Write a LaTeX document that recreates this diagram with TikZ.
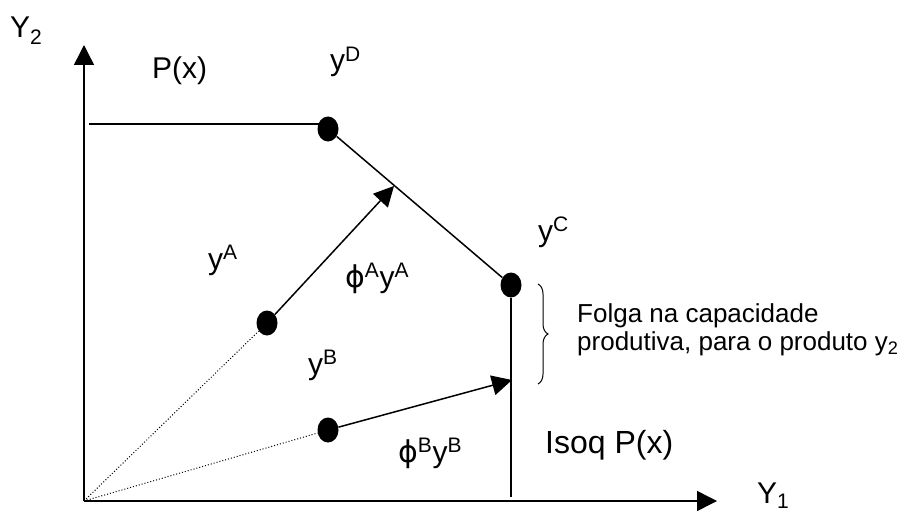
\documentclass[tikz,border=0pt]{standalone}
\usepackage{fontspec}
\setmainfont{Liberation Sans}
\newfontfamily\phifont{DejaVu Sans}
\usetikzlibrary{arrows.meta,shapes.geometric,decorations.pathreplacing}
\newcommand\myphi{{\phifont ϕ}}
\begin{document}
\begin{tikzpicture}[x=1pt,y=-1pt,
  axisline/.style={line width=1.5pt},
  arr/.style={line width=1.5pt,-{Triangle[length=20pt,width=20pt]}},
  pdot/.style={ellipse,fill=black,draw=none,inner sep=0pt,minimum width=21pt,minimum height=25pt},
  lbl/.style={anchor=base west,inner sep=0pt,font=\fontsize{30}{36}\selectfont},
  big/.style={anchor=base west,inner sep=0pt,font=\fontsize{32}{38}\selectfont},
  note/.style={anchor=base west,inner sep=0pt,align=left,font=\fontsize{26}{28}\selectfont}]
\useasboundingbox (0,0) rectangle (907,516);
% axes
\coordinate (O) at (84,501);
\coordinate (ytip) at (84,45);
\coordinate (xtip) at (717,501);
\draw[arr] (O) -- (ytip);
\draw[arr] (O) -- (xtip);
% points
\node[pdot] (D) at (328,129) {};
\node[pdot] (C) at (511,285) {};
\node[pdot] (A) at (267,323) {};
\node[pdot] (B) at (328,430) {};
% frontier
\coordinate (h0) at (89,124);
\coordinate (c0) at (511,497);
\draw[axisline] (h0) -- (h0 -| D);
\draw[axisline] (D) -- (C);
\draw[axisline] (C) -- (c0);
% rays
\draw[line width=1pt,dotted] (O) -- (A);
\draw[line width=1pt,dotted] (O) -- (B);
\coordinate (tA) at (394,186);
\coordinate (tB) at (512,380);
\draw[arr] (A) -- (tA);
\draw[arr] (B) -- (tB);
% brace
\coordinate (br1) at (538,284);
\coordinate (br2) at (538,384);
\draw[line width=1pt,decorate,decoration={brace,amplitude=10pt}] (br1) -- (br2);
% labels
\node[lbl] (lY2) at (10,38) {Y\textsubscript{2}};
\node[lbl] (lY1) at (757,503) {Y\textsubscript{1}};
\node[lbl] (lP) at (152,79) {P(x)};
\node[lbl] (lD) at (330,71) {y\textsuperscript{D}};
\node[lbl] (lC) at (538,241) {y\textsuperscript{C}};
\node[lbl] (lA) at (208,269) {y\textsuperscript{A}};
\node[lbl] (lB) at (308,374) {y\textsuperscript{B}};
\node[lbl] (lpA) at (345,287) {\myphi\textsuperscript{A}y\textsuperscript{A}};
\node[lbl] (lpB) at (398,462) {\myphi\textsuperscript{B}y\textsuperscript{B}};
\node[big] (lI) at (545,453) {Isoq P(x)};
\node[note] (lF) at (577,350) {Folga na capacidade\\produtiva, para o produto y\textsubscript{2}};
\end{tikzpicture}
\end{document}
